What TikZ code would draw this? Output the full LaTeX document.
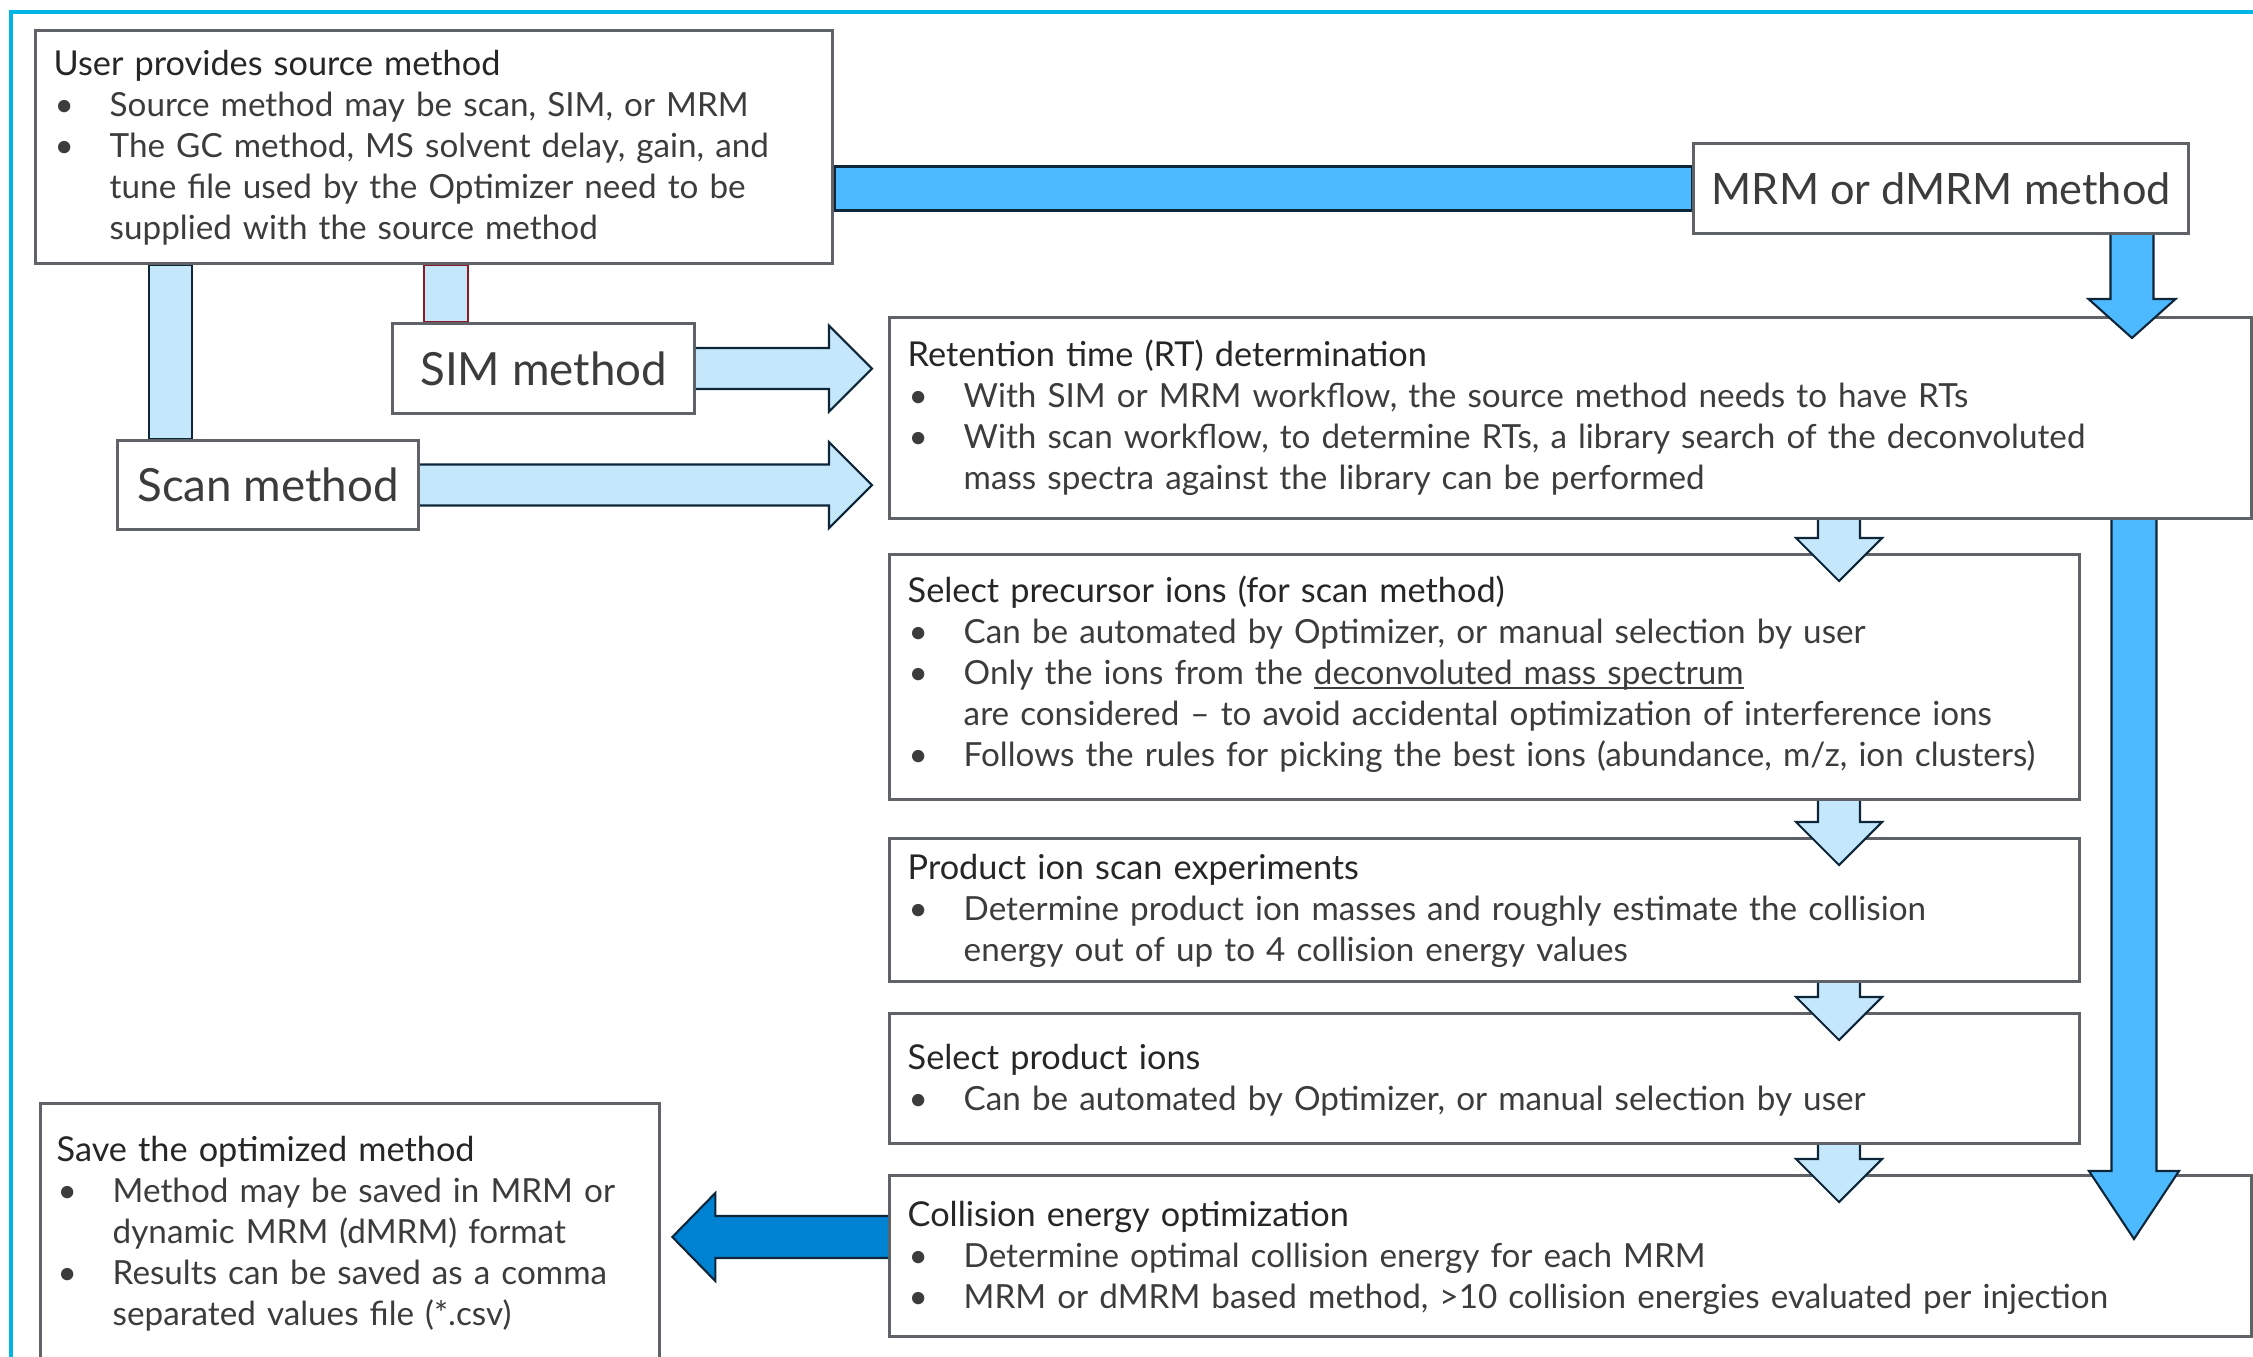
\documentclass[tikz,border=0pt]{standalone}
\usepackage{fontspec}
\setmainfont{Lato}
\usetikzlibrary{calc,positioning}

\definecolor{framecyan}{RGB}{0,181,228}
\definecolor{boxgray}{RGB}{95,99,104}
\definecolor{txtgray}{RGB}{60,60,60}
\definecolor{paleblue}{RGB}{197,231,251}
\definecolor{midblue}{RGB}{77,186,255}
\definecolor{deepblue}{RGB}{0,130,210}
\definecolor{navy}{RGB}{14,38,58}
\definecolor{darkred}{RGB}{140,25,35}

\pgfdeclarelayer{background}
\pgfsetlayers{background,main}

\tikzset{
  box/.style={draw=boxgray, line width=0.85pt, fill=white, inner sep=0pt, anchor=north west},
  bigbox/.style={box, font=\fontsize{13}{16}\selectfont, text=txtgray},
  txt/.style={anchor=north west, inner sep=0pt, align=left, text width=14cm,
    text=txtgray, font=\fontsize{9.45}{11.66}\selectfont},
  paleblock/.style={fill=paleblue, draw=navy, line width=0.6pt},
  midblock/.style={fill=midblue, draw=navy, line width=0.6pt},
  deepblock/.style={fill=deepblue, draw=navy, line width=0.6pt}
}

\newcommand{\bul}{\makebox[0.56cm][l]{\hspace{0.01cm}\textbullet}}
\newcommand{\ind}{\hspace*{0.56cm}}
\newcommand{\ttl}[1]{\strut{\fontsize{9.75}{11.66}\selectfont\color{black!85}#1}}
\newsavebox{\ulbox}
\newcommand{\undl}[1]{\sbox{\ulbox}{#1}\rlap{\rule[-1.3pt]{\wd\ulbox}{0.5pt}}\usebox{\ulbox}}

% block arrows: style, from, tip, shaft half width, head half width, head length
\newcommand{\rblock}[6]{%
  \draw[#1] let \p1=#2, \p2=#3 in
    (\x1,\y1+#4) -- (\x2-#6,\y1+#4) -- (\x2-#6,\y1+#5) -- (\x2,\y1)
    -- (\x2-#6,\y1-#5) -- (\x2-#6,\y1-#4) -- (\x1,\y1-#4);}
\newcommand{\lblock}[6]{%
  \draw[#1] let \p1=#2, \p2=#3 in
    (\x1,\y1+#4) -- (\x2+#6,\y1+#4) -- (\x2+#6,\y1+#5) -- (\x2,\y1)
    -- (\x2+#6,\y1-#5) -- (\x2+#6,\y1-#4) -- (\x1,\y1-#4);}
\newcommand{\dblock}[6]{%
  \draw[#1] let \p1=#2, \p2=#3 in
    (\x1-#4,\y1) -- (\x1-#4,\y2+#6) -- (\x1-#5,\y2+#6) -- (\x1,\y2)
    -- (\x1+#5,\y2+#6) -- (\x1+#4,\y2+#6) -- (\x1+#4,\y1);}

\begin{document}
\begin{tikzpicture}[x=0.01cm,y=-0.01cm]
\useasboundingbox (0,0) rectangle (2253,1357);
\draw[framecyan,line width=0.04cm] (11,1400) -- (11,12) -- (2300,12);

% boxes
\node[box,minimum width=7.97cm,minimum height=2.33cm] (src) at (34,29) {};
\node[bigbox,minimum width=4.95cm,minimum height=0.9cm,font=\fontsize{12.3}{16}\selectfont] (mrm) at (1692,142) {MRM or dMRM method};
\node[bigbox,minimum width=3.02cm,minimum height=0.9cm] (sim) at (391,322) {SIM method};
\node[bigbox,minimum width=3.01cm,minimum height=0.89cm] (scan) at (116,439) {Scan method};
\node[box,minimum width=13.61cm,minimum height=2.01cm] (rt) at (888,316) {};
\node[box,minimum width=11.89cm,minimum height=2.45cm] (pre) at (888,553) {};
\node[box,minimum width=11.89cm,minimum height=1.43cm] (prod) at (888,837) {};
\node[box,minimum width=11.89cm,minimum height=1.30cm] (sel) at (888,1012) {};
\node[box,minimum width=13.61cm,minimum height=1.61cm] (ce) at (888,1174) {};
\node[box,minimum width=6.19cm,minimum height=3.00cm] (save) at (39,1102) {};

% texts
\node[txt] (src-t) at ($(src.north west)+(19,17)$) {\ttl{User provides source method}\\
\bul Source method may be scan, SIM, or MRM\\
\bul The GC method, MS solvent delay, gain, and\\
\ind tune file used by the Optimizer need to be\\
\ind supplied with the source method};
\node[txt] (rt-t) at ($(rt.north west)+(19,21)$) {\ttl{Retention time (RT) determination}\\
\bul With SIM or MRM workflow, the source method needs to have RTs\\
\bul With scan workflow, to determine RTs, a library search of the deconvoluted\\
\ind mass spectra against the library can be performed};
\node[txt] (pre-t) at ($(pre.north west)+(19,20)$) {\ttl{Select precursor ions (for scan method)}\\
\bul Can be automated by Optimizer, or manual selection by user\\
\bul Only the ions from the \undl{deconvoluted mass spectrum}\\
\ind are considered -- to avoid accidental optimization of interference ions\\
\bul Follows the rules for picking the best ions (abundance, m/z, ion clusters)};
\node[txt] (prod-t) at ($(prod.north west)+(19,13)$) {\ttl{Product ion scan experiments}\\
\bul Determine product ion masses and roughly estimate the collision\\
\ind energy out of up to 4 collision energy values};
\node[txt] (sel-t) at ($(sel.north west)+(19,28)$) {\ttl{Select product ions}\\
\bul Can be automated by Optimizer, or manual selection by user};
\node[txt] (ce-t) at ($(ce.north west)+(19,23)$) {\ttl{Collision energy optimization}\\
\bul Determine optimal collision energy for each MRM\\
\bul MRM or dMRM based method, >10 collision energies evaluated per injection};
\node[txt] (save-t) at ($(save.north west)+(17,30)$) {\ttl{Save the optimized method}\\
\bul Method may be saved in MRM or\\
\ind dynamic MRM (dMRM) format\\
\bul Results can be saved as a comma\\
\ind separated values file (*.csv)};

% free ends
\coordinate (simtip) at ($(rt.west)+(-16,0)$);

% plain bars behind the boxes
\begin{pgfonlayer}{background}
\draw[midblock] ($(src.east |- mrm.west)+(0,-22)$) rectangle ($(mrm.west)+(0,22)$);
\draw[paleblock] ($(src.south west)+(115,0)$) rectangle ($(scan.north west)+(76,0)$);
\draw[paleblock,draw=darkred] ($(src.south west)+(390,0)$) rectangle ($(sim.north west)+(77,0)$);
\end{pgfonlayer}

% block arrows
\rblock{paleblock}{(sim.east)}{(simtip)}{0.205cm}{0.43cm}{0.43cm}
\rblock{paleblock}{(scan.east)}{(simtip)}{0.205cm}{0.43cm}{0.43cm}
\dblock{midblock}{($(mrm.south west)+(440,0)$)}{($(rt.north west)+(1244,22)$)}{0.215cm}{0.435cm}{0.39cm}
\dblock{midblock}{($(rt.south west)+(1246,0)$)}{($(ce.north west)+(1246,65)$)}{0.225cm}{0.45cm}{0.68cm}
\foreach \a/\b in {rt/pre,pre/prod,prod/sel,sel/ce}
  \dblock{paleblock}{($(\a.south west)+(951,0)$)}{($(\b.north west)+(951,28)$)}{0.21cm}{0.43cm}{0.43cm};
\lblock{deepblock}{($(ce.north west)+(0,63)$)}{($(save.north east)+(11,0)$)}{0.21cm}{0.44cm}{0.43cm}
\end{tikzpicture}
\end{document}
